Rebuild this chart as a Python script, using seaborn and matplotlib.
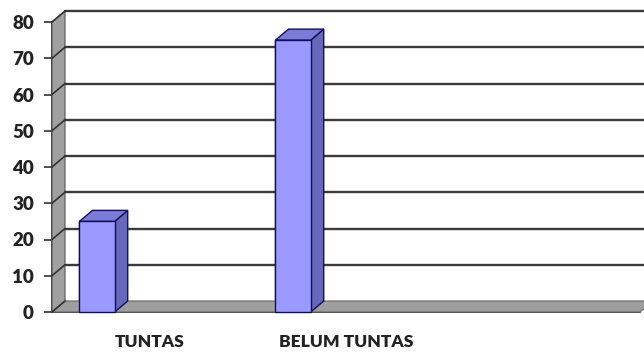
import matplotlib
matplotlib.use("Agg")
import matplotlib.pyplot as plt
import matplotlib.transforms as mtransforms
from matplotlib.patches import Polygon
from matplotlib.lines import Line2D
from matplotlib.ticker import FixedLocator
import seaborn as sns
import pandas as pd

categories = ["TUNTAS", "BELUM TUNTAS", ""]
bar_categories = ["TUNTAS", "BELUM TUNTAS"]
values = [25, 75]
series_order = ["S1", "S2", "S3", "S4"]
y_ticks = [0, 10, 20, 30, 40, 50, 60, 70, 80]

df = pd.DataFrame({"kategori": bar_categories, "nilai": values, "seri": ["S1", "S1"]})

sns.set_style("white")
plt.rcParams["font.family"] = ["Lato", "DejaVu Sans"]

DPI = 100
fig = plt.figure(figsize=(6.44, 3.53), dpi=DPI)
ax = fig.add_axes([52 / 644, (353 - 312) / 353, 588 / 644, 290 / 353])

FRONT = "#9999ff"
TOP = "#7c7cd8"
SIDE = "#6767bb"
EDGE = "#10105a"

sns.barplot(data=df, x="kategori", y="nilai", hue="seri", order=categories,
            hue_order=series_order, width=0.72, dodge=True, legend=False,
            palette=[FRONT] * 4, edgecolor=EDGE, linewidth=1.0, saturation=1,
            ax=ax, zorder=4)

ax.set_xlim(-0.5, 2.5)
ax.set_ylim(0, 80)
ax.set_xlabel("")
ax.set_ylabel("")
ax.set_yticks(y_ticks)
ax.set_yticklabels([str(v) for v in y_ticks], fontweight="heavy", fontsize=13.5, color="#222222")
ax.set_xticks([0, 1, 2])
ax.set_xticklabels(categories, fontweight="heavy", fontsize=12.5, color="#222222")
ax.xaxis.set_minor_locator(FixedLocator([-0.5, 0.5, 1.5, 2.5]))
ax.tick_params(axis="x", which="major", length=0, pad=16)
ax.tick_params(axis="x", which="minor", length=6, width=1.2, color="#555555", direction="out")
ax.tick_params(axis="y", which="major", length=6, width=1.2, color="#333333", direction="out", pad=7, left=True)
for s in ["top", "right"]:
    ax.spines[s].set_visible(False)
for s in ["left", "bottom"]:
    ax.spines[s].set_color("#333333")
    ax.spines[s].set_linewidth(1.3)
    ax.spines[s].set_zorder(5)
ax.patch.set_alpha(0)

DX, DY = 13, 11
ident = mtransforms.IdentityTransform()


def px(x, y, back=False):
    X, Y = ax.transData.transform((x, y))
    if back:
        return (X + DX, Y + DY)
    return (X, Y)


x0, x1 = -0.5, 2.5
ymax = 80

# left wall
wall = Polygon([px(x0, 0), px(x0, ymax), px(x0, ymax, True), px(x0, 0, True)],
               closed=True, facecolor="#a0a0a0", edgecolor="#555555", linewidth=0.8,
               transform=ident, clip_on=False, zorder=1)
fig.add_artist(wall)

# floor
floor = Polygon([px(x0, 0), px(x1, 0), px(x1, 0, True), px(x0, 0, True)],
                closed=True, facecolor="#9e9e9e", edgecolor="#666666", linewidth=0.8,
                transform=ident, clip_on=False, zorder=1)
fig.add_artist(floor)

# back wall gridlines and diagonal tick connectors
for v in y_ticks:
    a = px(x0, v, True)
    b = px(x1, v, True)
    if v > 0:
        fig.add_artist(Line2D([a[0], b[0] + 20], [a[1], b[1]], transform=ident,
                              color="#3a3a3a", linewidth=1.7, zorder=2, clip_on=False))
    f = px(x0, v)
    fig.add_artist(Line2D([f[0], a[0]], [f[1], a[1]], transform=ident,
                          color="#333333", linewidth=1.2, zorder=2, clip_on=False))

# 3D faces of bars, derived from the bars seaborn drew
for p in list(ax.patches):
    h = p.get_height()
    if not h or h != h:
        continue
    bx0 = p.get_x()
    bx1 = bx0 + p.get_width()
    top = Polygon([px(bx0, h), px(bx1, h), px(bx1, h, True), px(bx0, h, True)],
                  closed=True, facecolor=TOP, edgecolor=EDGE, linewidth=1.0,
                  transform=ident, clip_on=False, zorder=4)
    side = Polygon([px(bx1, 0), px(bx1, h), px(bx1, h, True), px(bx1, 0, True)],
                   closed=True, facecolor=SIDE, edgecolor=EDGE, linewidth=1.0,
                   transform=ident, clip_on=False, zorder=4)
    fig.add_artist(side)
    fig.add_artist(top)
    front = Polygon([px(bx0, 0), px(bx1, 0), px(bx1, h), px(bx0, h)],
                    closed=True, facecolor=FRONT, edgecolor=EDGE, linewidth=1.0,
                    transform=ident, clip_on=False, zorder=4.5)
    fig.add_artist(front)

fig.savefig("out.png", dpi=DPI)
